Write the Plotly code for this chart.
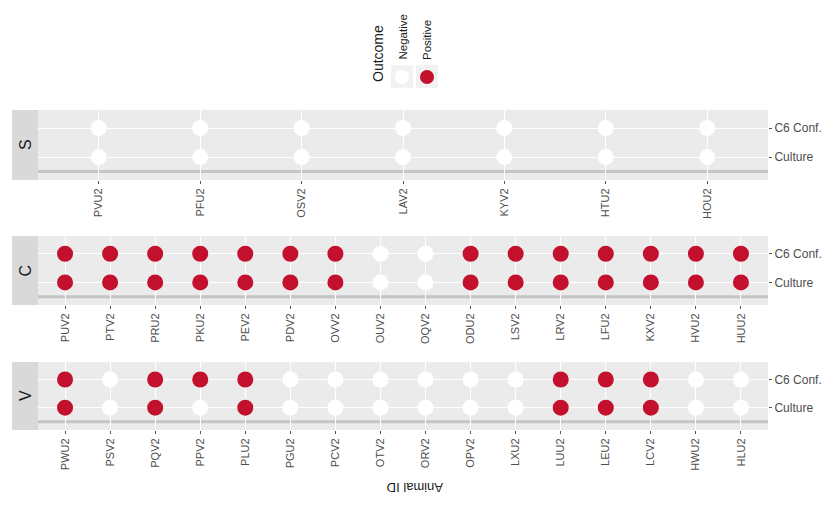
import plotly.graph_objects as go

# ---- data ----
tests = ["C6 Conf.", "Culture"]
s_ids = ["PVU2", "PFU2", "OSV2", "LAV2", "KYV2", "HTU2", "HOU2"]
s_c6 = [0, 0, 0, 0, 0, 0, 0]
s_culture = [0, 0, 0, 0, 0, 0, 0]

c_ids = ["PUV2", "PTV2", "PRU2", "PKU2", "PEV2", "PDV2", "OVV2", "OUV2",
         "OQV2", "ODU2", "LSV2", "LRV2", "LFU2", "KXV2", "HVU2", "HUU2"]
c_c6 = [1, 1, 1, 1, 1, 1, 1, 0, 0, 1, 1, 1, 1, 1, 1, 1]
c_culture = [1, 1, 1, 1, 1, 1, 1, 0, 0, 1, 1, 1, 1, 1, 1, 1]

v_ids = ["PWU2", "PSV2", "PQV2", "PPV2", "PLU2", "PGU2", "PCV2", "OTV2",
         "ORV2", "OPV2", "LXU2", "LUU2", "LEU2", "LCV2", "HWU2", "HLU2"]
v_c6 = [1, 0, 1, 1, 1, 0, 0, 0, 0, 0, 0, 1, 1, 1, 0, 0]
v_culture = [1, 0, 1, 0, 1, 0, 0, 0, 0, 0, 0, 1, 1, 1, 0, 0]

panels = [("S", s_ids, s_c6, s_culture),
          ("C", c_ids, c_c6, c_culture),
          ("V", v_ids, v_c6, v_culture)]

RED = "#C3102D"
PANEL_BG = "#EBEBEB"
STRIP_BG = "#D9D9D9"
TXT = "#4D4D4D"
FONT = "Liberation Sans"

OFF = 8  # page body margin
W, H = 834 - OFF, 506 - OFF
# plot area in page pixels: x 38..768, y 110..430
ml, mr, mt, mb = 38 - OFF, 834 - 768, 110 - OFF, 506 - 430
pix = [(110, 180), (236, 305), (362, 430)]
plot_h = H - mt - mb
pw = W - ml - mr


def px(xp):
    return (xp - OFF - ml) / pw


def py(yp):
    return (H - mb - (yp - OFF)) / plot_h


fig = go.Figure()
shapes = []
annotations = []

for i, (lab, ids, c6, cul) in enumerate(panels):
    ax = "" if i == 0 else str(i + 1)
    xa, ya = "x" + ax, "y" + ax
    for outcome, val, col in [("Negative", 0, "white"), ("Positive", 1, RED)]:
        xs, ys = [], []
        for idx, a in enumerate(ids):
            if c6[idx] == val:
                xs.append(a); ys.append("C6 Conf.")
            if cul[idx] == val:
                xs.append(a); ys.append("Culture")
        fig.add_trace(go.Scatter(
            x=xs, y=ys, mode="markers", name=outcome, xaxis=xa, yaxis=ya,
            marker=dict(color=col, size=16, line=dict(width=0)),
            showlegend=False))
    n = len(ids)
    top, bot = pix[i]
    fig.layout["xaxis" + ax] = dict(
        domain=[0, 1], anchor=ya, type="category", categoryorder="array",
        categoryarray=ids, range=[-0.6, n - 0.4], showgrid=True,
        gridcolor="white", gridwidth=1.2, tickangle=-90, ticks="outside",
        ticklen=3, tickcolor="#555555", tickfont=dict(size=11, color=TXT),
        showline=False, zeroline=False, fixedrange=True, automargin=False)
    fig.layout["yaxis" + ax] = dict(
        domain=[py(bot), py(top)], anchor=xa, side="right", type="category",
        categoryorder="array", categoryarray=["Culture", "C6 Conf."],
        range=[-0.79, 1.62], showgrid=True, gridcolor="white", gridwidth=1.2,
        ticks="outside", ticklen=3, tickcolor="#555555",
        tickfont=dict(size=12, color=TXT), zeroline=False, fixedrange=True,
        automargin=False)
    # thick grey line near bottom of panel
    shapes.append(dict(type="line", xref=xa + " domain", yref=ya,
                       x0=0, x1=1, y0=-0.5, y1=-0.5,
                       line=dict(color="#C4C4C4", width=3), layer="below"))
    # strip on the left
    shapes.append(dict(type="rect", xref="paper", yref=ya + " domain",
                       x0=px(12), x1=px(38), y0=0, y1=1,
                       fillcolor=STRIP_BG, line=dict(width=0), layer="below"))
    annotations.append(dict(text=lab, xref="paper", yref=ya + " domain",
                            x=px(25), y=0.5, showarrow=False,
                            textangle=-90, font=dict(size=16, color="#1A1A1A"),
                            xanchor="center", yanchor="middle"))

# legend (drawn as annotations + key shapes)
annotations.append(dict(text="Outcome", xref="paper", yref="paper",
                        x=px(378), y=py(54), showarrow=False, textangle=-90,
                        font=dict(size=14, color="#1A1A1A"),
                        xanchor="center", yanchor="middle"))
for xc, name, col in [(402, "Negative", "white"), (427, "Positive", RED)]:
    annotations.append(dict(text=name, xref="paper", yref="paper",
                            x=px(xc), y=py(62), showarrow=False, textangle=-90,
                            font=dict(size=11.5, color="#1A1A1A"),
                            xanchor="center", yanchor="bottom"))
    shapes.append(dict(type="rect", xref="paper", yref="paper",
                       x0=px(xc - 11), x1=px(xc + 11), y0=py(88), y1=py(65),
                       fillcolor="#F2F2F2", line=dict(width=0)))
    shapes.append(dict(type="circle", xref="paper", yref="paper",
                       x0=px(xc - 7), x1=px(xc + 7), y0=py(84), y1=py(70),
                       fillcolor=col, line=dict(width=0)))

# upside-down axis title
annotations.append(dict(text="Animal ID", xref="paper", yref="paper",
                        x=px(415), y=py(488), showarrow=False, textangle=180,
                        font=dict(size=13, color="#1A1A1A"),
                        xanchor="center", yanchor="middle"))

fig.update_layout(
    width=W, height=H,
    margin=dict(l=ml, r=mr, t=mt, b=mb, autoexpand=False),
    paper_bgcolor="white", plot_bgcolor=PANEL_BG,
    font=dict(family=FONT, color=TXT),
    shapes=shapes, annotations=annotations, showlegend=False)

fig.write_html("out.html")
